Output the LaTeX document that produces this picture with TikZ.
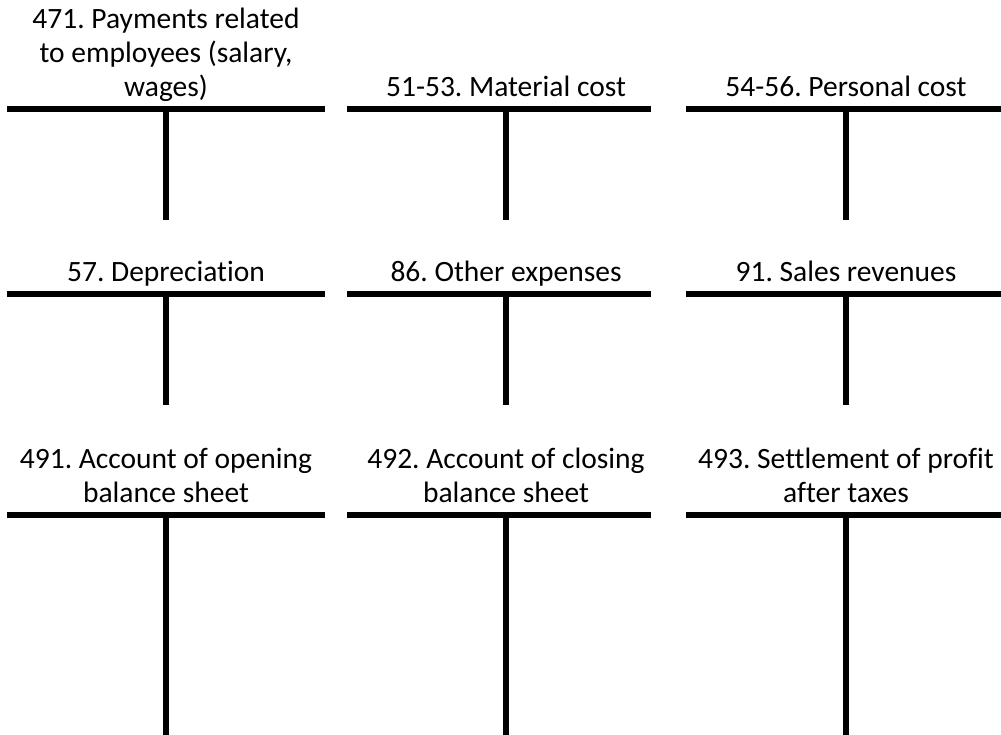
\documentclass[tikz,border=0pt]{standalone}
\usepackage{fontspec}
\setmainfont{Carlito}[Ligatures=NoCommon]
\usepackage{tikz}
\frenchspacing

\begin{document}
\begin{tikzpicture}[
  x=1pt, y=-1pt,
  acct/.style={anchor=south, inner sep=0pt, align=center, font=\fontsize{29.5}{34}\selectfont, execute at end node=\strut},
  tbar/.style={line width=6pt, draw=black}
]
\useasboundingbox (0,0) rectangle (1001,735);
% first row
\node[acct] (a471) at (166,107) {471. Payments related\\to employees (salary,\\wages)};
\node[acct] (a51) at (506,107) {51-53. Material cost};
\node[acct] (a54) at (846,107) {54-56. Personal cost};
% second row
\node[acct] (a57) at (166,292) {57. Depreciation};
\node[acct] (a86) at (506,292) {86. Other expenses};
\node[acct] (a91) at (846,292) {91. Sales revenues};
% third row
\node[acct] (a491) at (166,513) {491. Account of opening\\balance sheet};
\node[acct] (a492) at (506,513) {492. Account of closing\\balance sheet};
\node[acct] (a493) at (846,513) {493. Settlement of profit\\after taxes};
% T bars
\coordinate (r1) at (0,109); \coordinate (r2) at (0,294); \coordinate (r3) at (0,515);
\coordinate (b1) at (0,220); \coordinate (b2) at (0,405); \coordinate (b3) at (0,735);
\draw[tbar] (7,109) -- (325,109); \draw[tbar] (347,109) -- (651,109); \draw[tbar] (686,109) -- (1001,109);
\draw[tbar] (7,294) -- (325,294); \draw[tbar] (347,294) -- (651,294); \draw[tbar] (686,294) -- (1001,294);
\draw[tbar] (7,515) -- (325,515); \draw[tbar] (347,515) -- (651,515); \draw[tbar] (686,515) -- (1001,515);
\draw[tbar] (a471.south |- r1) -- (a471.south |- b1);
\draw[tbar] (a51.south |- r1) -- (a51.south |- b1);
\draw[tbar] (a54.south |- r1) -- (a54.south |- b1);
\draw[tbar] (a57.south |- r2) -- (a57.south |- b2);
\draw[tbar] (a86.south |- r2) -- (a86.south |- b2);
\draw[tbar] (a91.south |- r2) -- (a91.south |- b2);
\draw[tbar] (a491.south |- r3) -- (a491.south |- b3);
\draw[tbar] (a492.south |- r3) -- (a492.south |- b3);
\draw[tbar] (a493.south |- r3) -- (a493.south |- b3);
\end{tikzpicture}
\end{document}
